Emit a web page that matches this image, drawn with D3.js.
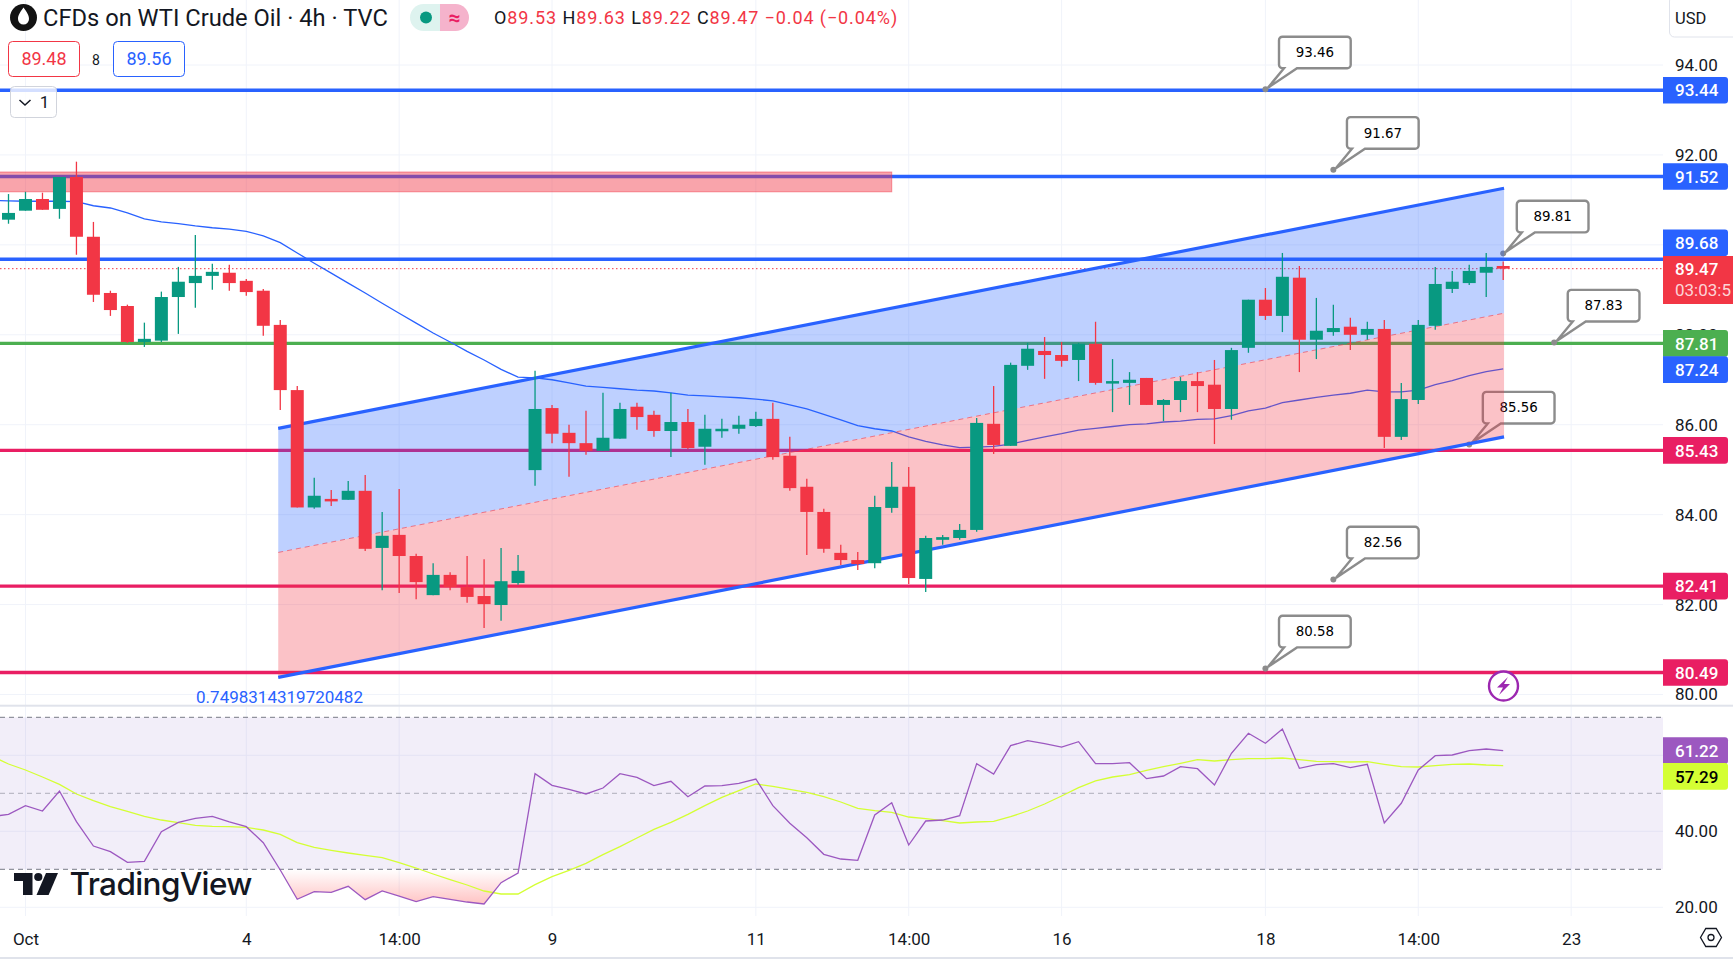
<!DOCTYPE html>
<html>
<head>
<meta charset="utf-8">
<title>CFDs on WTI Crude Oil</title>
<script src="https://cdn.jsdelivr.net/npm/d3@7"></script>
<style>
  html, body { margin: 0; padding: 0; background: #fff; overflow: hidden; }
  svg { display: block; font-family: Roboto, sans-serif; }
  .axis path { display: none; }
  .axis line { display: none; }
  .axis text { font-size: 17px; fill: #131722; font-family: Roboto, sans-serif; }
</style>
</head>
<body>
<svg id="chart"></svg>
<script>
const width = 1733, height = 959;

// 4h candles, bar 0 is the first one in view
const opens = [90.56,90.76,91.02,90.80,91.51,90.18,88.93,88.64,87.84,87.87,88.84,89.15,89.31,89.38,89.20,88.98,88.22,86.77,84.16,84.35,84.33,84.53,83.26,83.55,83.08,82.21,82.66,82.39,82.19,81.99,82.48,84.99,86.37,85.82,85.59,85.42,85.69,86.40,86.22,85.86,86.06,85.51,85.89,85.91,85.97,86.13,85.31,84.62,84.06,83.15,82.99,82.92,84.15,84.62,82.57,83.44,83.48,83.66,86.02,85.53,87.31,87.64,87.55,87.44,87.80,86.95,86.93,87.04,86.44,86.55,86.97,86.89,86.35,87.71,88.78,88.42,89.27,87.89,88.06,88.18,88.00,88.13,85.73,86.55,88.20,89.02,89.15,89.38,89.53];
const highs = [91.13,91.18,91.16,91.51,91.85,90.51,88.98,88.67,88.27,88.96,89.51,90.22,89.58,89.56,89.24,89.02,88.33,86.86,84.82,84.55,84.75,84.88,84.06,84.57,83.13,82.92,82.72,83.08,83.01,83.26,83.10,87.20,86.44,86.00,86.31,86.71,86.49,86.49,86.31,86.71,86.35,86.22,86.13,86.20,86.29,86.49,85.73,84.80,84.13,83.33,83.17,84.42,85.17,85.06,83.53,83.55,83.79,86.15,86.86,87.38,87.82,87.95,87.84,87.82,88.29,87.46,87.17,87.04,86.57,87.06,87.17,87.44,87.71,88.78,89.04,89.82,89.53,88.82,88.67,88.38,88.29,88.33,86.93,88.33,89.51,89.42,89.56,89.82,89.63];
const lows = [90.47,90.76,90.78,90.58,89.78,88.73,88.42,87.82,87.73,87.84,88.02,88.60,89.00,88.98,88.87,87.98,86.33,84.16,84.13,84.19,84.33,83.19,82.32,82.26,82.12,82.21,82.32,82.04,81.48,81.64,82.44,84.64,85.59,84.84,85.33,85.42,85.69,85.89,85.73,85.28,85.46,85.11,85.71,85.80,85.95,85.22,84.53,83.10,83.15,82.88,82.77,82.81,84.04,82.46,82.28,83.33,83.44,83.62,85.35,85.53,87.22,87.02,87.29,86.97,86.89,86.28,86.44,86.44,86.08,86.28,86.28,85.57,86.11,87.60,88.33,88.06,87.17,87.46,87.98,87.66,87.89,85.48,85.66,86.46,88.11,88.93,89.11,88.84,89.22];
const closes = [90.71,91.02,90.78,91.51,90.18,88.89,88.55,87.84,87.91,88.84,89.18,89.31,89.40,89.15,88.95,88.20,86.77,84.16,84.42,84.33,84.53,83.24,83.53,83.08,82.50,82.66,82.39,82.17,82.01,82.52,82.75,86.35,85.80,85.59,85.42,85.71,86.35,86.17,85.86,86.06,85.48,85.91,85.91,86.00,86.13,85.28,84.59,84.06,83.24,82.99,82.90,84.17,84.62,82.59,83.48,83.50,83.66,86.04,85.55,87.33,87.69,87.55,87.42,87.80,86.93,86.97,87.00,86.44,86.55,86.97,86.86,86.35,87.66,88.78,88.42,89.29,87.89,88.09,88.15,88.00,88.13,85.73,86.57,88.22,89.13,89.18,89.42,89.51,89.47];

// these three start one bar earlier, at bar -1, just off the left edge
const ma_line = [90.99,90.98,90.97,90.97,90.97,90.96,90.87,90.82,90.71,90.58,90.51,90.47,90.42,90.38,90.35,90.30,90.20,90.05,89.82,89.59,89.37,89.15,88.93,88.70,88.48,88.26,88.04,87.84,87.63,87.44,87.23,87.06,87.04,87.00,86.93,86.86,86.83,86.80,86.77,86.75,86.71,86.66,86.64,86.62,86.60,86.57,86.53,86.44,86.35,86.23,86.11,85.98,85.91,85.86,85.73,85.63,85.55,85.49,85.50,85.52,85.57,85.65,85.73,85.80,85.88,85.92,85.96,86.00,86.02,86.06,86.08,86.12,86.13,86.20,86.31,86.37,86.49,86.55,86.61,86.66,86.70,86.77,86.73,86.73,86.77,86.89,86.98,87.09,87.18,87.24];
const rsi_values = [43.85,44.46,46.75,45.34,50.60,42.54,36.13,34.64,31.83,32.10,39.90,42.36,43.41,43.94,42.45,41.22,37.01,29.82,22.11,24.11,23.94,25.52,22.01,24.29,22.97,21.48,22.80,22.10,21.39,20.87,26.48,29.03,55.17,52.10,51.04,49.82,51.39,55.17,54.20,52.01,53.15,49.11,51.92,52.01,52.62,53.76,46.75,42.10,38.32,33.94,32.71,32.36,44.29,47.54,36.39,42.71,42.97,44.11,57.80,55.08,62.54,63.85,63.06,62.18,63.59,57.80,57.80,58.06,53.85,54.55,57.01,56.48,52.18,60.53,65.79,63.16,66.92,56.58,57.53,57.79,56.74,57.63,42.18,47.37,56.13,59.89,60.08,61.21,61.66,61.22];
const rsi_ma = [59.82,57.71,56.13,54.29,52.36,49.82,48.06,46.48,45.25,43.94,42.97,42.27,41.57,41.31,41.22,41.04,40.34,39.20,37.01,35.78,34.99,34.29,33.68,33.06,31.75,30.34,28.76,27.27,25.87,24.29,23.50,23.50,25.96,28.06,29.73,31.57,33.85,35.96,38.24,40.52,42.36,44.46,46.75,48.94,50.69,52.45,51.83,51.04,50.25,49.11,47.71,46.04,45.43,44.99,43.76,43.32,42.80,42.18,42.45,42.62,43.85,45.34,47.18,49.29,51.48,53.24,54.29,54.90,56.04,57.01,57.89,58.85,58.50,58.85,59.11,59.11,59.29,58.85,58.41,58.32,58.24,58.32,57.62,57.01,56.92,57.27,57.62,57.71,57.45,57.29];

const price_ticks = [80, 82, 84, 86, 88, 90, 92, 94];
const rsi_ticks = [20, 40, 60];
const rsi_bands = [70, 50, 30];
const time_tick_bars = [1, 14, 23, 32, 44, 53, 62, 74, 83, 92];
const time_tick_labels = ['Oct', '4', '14:00', '9', '11', '14:00', '16', '18', '14:00', '23'];

// horizontal levels drawn on the chart
const level_values = [93.44, 91.52, 89.68, 87.81, 85.43, 82.41, 80.49];
const level_colors = ['#2962FF', '#2962FF', '#2962FF', '#4CAF50', '#E91E63', '#E91E63', '#E91E63'];

// parallel channel, two ends each
const channel_bars = [15.88, 88.05];
const channel_top = [85.92, 91.26];
const channel_mid = [83.16, 88.48];
const channel_low = [80.38, 85.73];

// supply zone
const zone_bars = [-2, 52];
const zone_prices = [91.62, 91.18];

// callouts: price text and the bar they point at
const callout_values = [93.46, 91.67, 89.81, 87.83, 85.56, 82.56, 80.58];
const callout_bars = [74, 78, 88, 91, 86, 78, 74];

const last_price = 89.47;
const ma_last = 87.24;
const rsi_last = 61.22, rsi_ma_last = 57.29;

const pane_right = 1663, separator_y = 705.7, time_axis_y = 916;
const green = '#089981', red = '#F23645', blue = '#2962FF', ink = '#131722';
const rsi_color = '#9C58C0', rsi_ma_color = '#D4FF33';

const x = d3.scaleLinear().domain([0, 88]).range([8.5, 1503.2]);
const y = d3.scaleLinear().domain([80, 94]).range([694.5, 65]);
const y_rsi = d3.scaleLinear().domain([30, 70]).range([869.3, 717.3]);

const svg = d3.select('#chart').attr('width', width).attr('height', height)
  .attr('viewBox', `0 0 ${width} ${height}`);

const defs = svg.append('defs');
defs.append('clipPath').attr('id', 'paneClip').append('rect')
  .attr('width', pane_right).attr('height', separator_y);
defs.append('clipPath').attr('id', 'rsiClip').append('rect')
  .attr('x', 0).attr('y', separator_y).attr('width', pane_right).attr('height', time_axis_y - separator_y);
defs.append('clipPath').attr('id', 'oversoldClip').append('rect')
  .attr('x', 0).attr('y', y_rsi(30)).attr('width', pane_right).attr('height', 60);
const grad = defs.append('linearGradient').attr('id', 'oversold')
  .attr('gradientUnits', 'userSpaceOnUse')
  .attr('x1', 0).attr('x2', 0).attr('y1', y_rsi(30)).attr('y2', y_rsi(20));
grad.append('stop').attr('offset', 0).attr('stop-color', '#FF5252').attr('stop-opacity', 0);
grad.append('stop').attr('offset', 1).attr('stop-color', '#FF5252').attr('stop-opacity', 0.38);

// Grid
const grid = svg.append('g').attr('stroke', '#F0F3FA').attr('stroke-width', 1);
price_ticks.forEach(p => {
  grid.append('line').attr('x1', 0).attr('x2', pane_right).attr('y1', y(p)).attr('y2', y(p));
});
rsi_ticks.forEach(r => {
  grid.append('line').attr('x1', 0).attr('x2', pane_right).attr('y1', y_rsi(r)).attr('y2', y_rsi(r));
});
time_tick_bars.forEach(b => {
  grid.append('line').attr('x1', x(b)).attr('x2', x(b)).attr('y1', 0).attr('y2', time_axis_y);
});

// Pane separator and bottom rule
svg.append('rect').attr('x', 0).attr('y', separator_y - 1).attr('width', width).attr('height', 2).attr('fill', '#E0E3EB');
svg.append('rect').attr('x', 0).attr('y', 957).attr('width', width).attr('height', 2).attr('fill', '#E0E3EB');

const pane = svg.append('g').attr('clip-path', 'url(#paneClip)');

// Levels
pane.selectAll('.level').data(level_values).enter().append('line')
  .attr('class', 'level')
  .attr('x1', 0).attr('x2', pane_right)
  .attr('y1', d => y(d)).attr('y2', d => y(d))
  .attr('stroke', (_, i) => level_colors[i])
  .attr('stroke-width', 3.4);

// Last price dotted line
pane.append('line').attr('x1', 0).attr('x2', pane_right)
  .attr('y1', y(last_price)).attr('y2', y(last_price))
  .attr('stroke', red).attr('stroke-width', 1).attr('stroke-dasharray', '1.5 2.5');

// Moving average
const bar_line = d3.line().x((_, i) => x(i - 1)).y(d => y(d));
pane.append('path').attr('d', bar_line(ma_line))
  .attr('fill', 'none').attr('stroke', blue).attr('stroke-width', 1.3);

// Callouts, they sit below the channel fill
const callout = pane.selectAll('.callout').data(callout_values).enter().append('g')
  .attr('class', 'callout')
  .attr('transform', (d, i) => `translate(${x(callout_bars[i])},${y(d)})`);
callout.append('path')
  .attr('d', () => {
    const p = d3.path(), l = 13.6, r = 85.3, t = -52.6, b = -21, c = 3.5;
    p.moveTo(l + c, t);
    p.lineTo(r - c, t); p.arcTo(r, t, r, t + c, c);
    p.lineTo(r, b - c); p.arcTo(r, b, r - c, b, c);
    p.lineTo(31.6, b); p.lineTo(2.5, -1.5); p.lineTo(18.6, b);
    p.lineTo(l + c, b); p.arcTo(l, b, l, b - c, c);
    p.lineTo(l, t + c); p.arcTo(l, t, l + c, t, c);
    p.closePath();
    return p.toString();
  })
  .attr('fill', '#fff').attr('stroke', '#8C8C8C').attr('stroke-width', 2.4);
callout.append('circle').attr('r', 3).attr('fill', '#8C8C8C');
callout.append('text').attr('x', 49.5).attr('y', -32)
  .attr('text-anchor', 'middle')
  .style('font-family', '"DejaVu Sans"').style('font-size', '13.4px').style('font-weight', 500)
  .attr('fill', '#000').text(d => d.toFixed(2));

// Supply zone
pane.append('rect')
  .attr('x', x(zone_bars[0])).attr('width', x(zone_bars[1]) - x(zone_bars[0]))
  .attr('y', y(zone_prices[0])).attr('height', y(zone_prices[1]) - y(zone_prices[0]))
  .attr('fill', red).attr('fill-opacity', 0.45)
  .attr('stroke', red).attr('stroke-opacity', 0.5).attr('stroke-width', 1);

// Channel fills and border
const channel_x = (_, i) => x(channel_bars[i]);
const band = (upper, lower) => d3.area().x(channel_x).y0((_, i) => y(lower[i])).y1((_, i) => y(upper[i]))(channel_bars);
pane.append('path').attr('d', band(channel_top, channel_mid)).attr('fill', blue).attr('fill-opacity', 0.3);
pane.append('path').attr('d', band(channel_mid, channel_low)).attr('fill', red).attr('fill-opacity', 0.3);
const channel_line = d3.line().x(channel_x).y(d => y(d));
pane.append('path').attr('d', channel_line(channel_top)).attr('fill', 'none').attr('stroke', blue).attr('stroke-width', 3.2);
pane.append('path').attr('d', channel_line(channel_low)).attr('fill', 'none').attr('stroke', blue).attr('stroke-width', 3.2);
pane.append('path').attr('d', channel_line(channel_mid)).attr('fill', 'none')
  .attr('stroke', red).attr('stroke-opacity', 0.6).attr('stroke-width', 1).attr('stroke-dasharray', '5 4');

// Candles
const candle = pane.selectAll('.candle').data(opens).enter().append('g').attr('class', 'candle');
const candle_color = (_, i) => closes[i] >= opens[i] ? green : red;
candle.append('line')
  .attr('x1', (_, i) => x(i)).attr('x2', (_, i) => x(i))
  .attr('y1', (_, i) => y(highs[i])).attr('y2', (_, i) => y(lows[i]))
  .attr('stroke', candle_color).attr('stroke-width', 1.3);
candle.append('rect')
  .attr('x', (_, i) => x(i) - 6.5).attr('width', 13)
  .attr('y', (d, i) => y(Math.max(d, closes[i])))
  .attr('height', (d, i) => Math.max(2.5, Math.abs(y(d) - y(closes[i]))))
  .attr('fill', candle_color);

pane.append('text').attr('x', 279.5).attr('y', 703)
  .attr('text-anchor', 'middle').attr('fill', blue).style('font-size', '17px')
  .text('0.7498314319720482');

// RSI pane
svg.append('rect').attr('x', 0).attr('width', pane_right)
  .attr('y', y_rsi(70)).attr('height', y_rsi(30) - y_rsi(70))
  .attr('fill', '#7E57C2').attr('fill-opacity', 0.1);
rsi_bands.forEach((r, i) => {
  svg.append('line').attr('x1', 0).attr('x2', pane_right).attr('y1', y_rsi(r)).attr('y2', y_rsi(r))
    .attr('stroke', '#787B86').attr('stroke-opacity', i === 1 ? 0.55 : 1)
    .attr('stroke-dasharray', '5 4');
});
const rsi_pane = svg.append('g').attr('clip-path', 'url(#rsiClip)');
const rsi_area = d3.area().x((_, i) => x(i - 1)).y0(y_rsi(30)).y1(d => y_rsi(d));
rsi_pane.append('g').attr('clip-path', 'url(#oversoldClip)').append('path')
  .attr('d', rsi_area(rsi_values)).attr('fill', 'url(#oversold)');
const rsi_line = d3.line().x((_, i) => x(i - 1)).y(d => y_rsi(d));
rsi_pane.append('path').attr('d', rsi_line(rsi_ma)).attr('fill', 'none').attr('stroke', rsi_ma_color).attr('stroke-width', 1.3);
rsi_pane.append('path').attr('d', rsi_line(rsi_values)).attr('fill', 'none').attr('stroke', rsi_color).attr('stroke-width', 1.3);

// TradingView mark
const logo = svg.append('g').attr('fill', ink);
logo.append('path').attr('d', 'M14 873H32.5V895H23V881H14Z');
logo.append('circle').attr('cx', 38.3).attr('cy', 877).attr('r', 4.1);
logo.append('path').attr('d', 'M46 873H58L48.6 895H36.5Z');
logo.append('text').attr('x', 69.5).attr('y', 895)
  .style('font-family', 'Inter').style('font-size', '31.5px').style('font-weight', 500)
  .style('letter-spacing', '-0.6px').text('TradingView');

// Axes
svg.append('g').attr('class', 'axis').attr('transform', `translate(${pane_right},0)`)
  .call(d3.axisRight(y).tickValues(price_ticks).tickSize(0).tickPadding(12).tickFormat(d3.format('.2f')));
svg.append('g').attr('class', 'axis').attr('transform', `translate(${pane_right},0)`)
  .call(d3.axisRight(y_rsi).tickValues(rsi_ticks).tickSize(0).tickPadding(12).tickFormat(d3.format('.2f')));
svg.append('g').attr('class', 'axis').attr('transform', `translate(0,${time_axis_y})`)
  .call(d3.axisBottom(x).tickValues(time_tick_bars).tickSize(0).tickPadding(17)
    .tickFormat((_, i) => time_tick_labels[i]));

// Price labels on the axis, nudged where they would overlap
const price_label = (cy, text, fill, color) => {
  const g = svg.append('g');
  g.append('path')
    .attr('d', `M${pane_right} ${cy - 13.3}h62a3 3 0 0 1 3 3v20.6a3 3 0 0 1 -3 3h-62z`)
    .attr('fill', fill);
  g.append('text').attr('x', 1675).attr('y', cy + 6.2)
    .attr('fill', color).style('font-size', '17px').style('font-weight', 500).text(text);
};
level_values.forEach((v, i) => {
  const nudge = v === 89.68 ? -16.4 : 0;
  price_label(y(v) + nudge, v.toFixed(2), level_colors[i], '#fff');
});
price_label(y(ma_last) + 0.7, ma_last.toFixed(2), blue, '#fff');
price_label(y_rsi(rsi_last), rsi_last.toFixed(2), rsi_color, '#fff');
price_label(y_rsi(rsi_ma_last) + 10.8, rsi_ma_last.toFixed(2), rsi_ma_color, '#000');

// Last price with countdown
svg.append('rect').attr('x', pane_right).attr('y', 256).attr('width', width - pane_right).attr('height', 48).attr('fill', red);
svg.append('text').attr('x', 1675).attr('y', 275.2).attr('fill', '#fff')
  .style('font-size', '17px').style('font-weight', 500).text(last_price.toFixed(2));
svg.append('text')
  .attr('x', 1675).attr('y', 296).attr('fill', '#fff').attr('fill-opacity', 0.8)
  .style('font-size', '17px').text('03:03:5');

// USD button
svg.append('rect').attr('x', 1669.5).attr('y', -4).attr('width', 70).attr('height', 41).attr('rx', 5)
  .attr('fill', '#fff').attr('stroke', '#E0E3EB');
svg.append('text').attr('x', 1675).attr('y', 24).attr('fill', ink).style('font-size', '16.5px').text('USD');

// Header
svg.append('circle').attr('cx', 23.5).attr('cy', 17.5).attr('r', 13.5).attr('fill', '#131313');
svg.append('path').attr('d', 'M23.5 7.5C27 12.5 29 15 29 19A5.5 5.5 0 0 1 18 19C18 15 20 12.5 23.5 7.5Z').attr('fill', '#fff');
svg.append('text').attr('x', 43).attr('y', 25.5).attr('fill', ink)
  .style('font-size', '23.7px').text('CFDs on WTI Crude Oil · 4h · TVC');

svg.append('path').attr('d', 'M440 4H423.5a13.5 13.5 0 0 0 0 27H440Z').attr('fill', '#DEF3EF');
svg.append('path').attr('d', 'M440 4H455.5a13.5 13.5 0 0 1 0 27H440Z').attr('fill', '#F5B3CC');
svg.append('circle').attr('cx', 426).attr('cy', 17.5).attr('r', 6).attr('fill', green);
svg.append('text').attr('x', 454.5).attr('y', 24.5).attr('text-anchor', 'middle').attr('fill', '#E91E63')
  .style('font-size', '21px').style('font-weight', 700).text('≈');

const ohlc = svg.append('text').attr('x', 494).attr('y', 23.5).style('font-size', '18px').style('letter-spacing', '0.9px');
[['O', ink], ['89.53', red], [' H', ink], ['89.63', red], [' L', ink], ['89.22', red], [' C', ink], ['89.47', red], [' −0.04 (−0.04%)', red]]
  .forEach(d => ohlc.append('tspan').attr('fill', d[1]).style('white-space', 'pre').text(d[0]));

// Bid / ask boxes
const quote_box = (box_x, text, color) => {
  svg.append('rect').attr('x', box_x + 0.5).attr('y', 41.5).attr('width', 71).attr('height', 35).attr('rx', 4)
    .attr('fill', '#fff').attr('stroke', color);
  svg.append('text').attr('x', box_x + 36).attr('y', 65.2).attr('text-anchor', 'middle')
    .attr('fill', color).style('font-size', '18px').text(text);
};
quote_box(8, '89.48', red);
svg.append('text').attr('x', 96).attr('y', 65).attr('text-anchor', 'middle').attr('fill', ink).style('font-size', '14px').text('8');
quote_box(113, '89.56', blue);

// Collapse button
svg.append('rect').attr('x', 10.5).attr('y', 86.5).attr('width', 46).attr('height', 31).attr('rx', 4)
  .attr('fill', '#fff').attr('fill-opacity', 0.8).attr('stroke', '#D1D4DC');
svg.append('path').attr('d', 'M19.5 100l5.5 5 5.5-5').attr('fill', 'none').attr('stroke', ink).attr('stroke-width', 1.5);
svg.append('text').attr('x', 44.5).attr('y', 108).attr('text-anchor', 'middle').attr('fill', ink).style('font-size', '17px').text('1');

// Bolt badge
svg.append('circle').attr('cx', 1503.5).attr('cy', 686).attr('r', 14.5).attr('fill', '#fff').attr('stroke', '#9C27B0').attr('stroke-width', 2.4);
svg.append('path').attr('d', 'M1508 677L1497 687.5H1503L1499 695L1510 684H1504Z').attr('fill', '#9C27B0');

// Settings icon
svg.append('path').attr('d', 'M1700.5 937.5L1705.8 928.5H1716.2L1721.5 937.5L1716.2 946.5H1705.8Z')
  .attr('fill', 'none').attr('stroke', ink).attr('stroke-width', 1.3);
svg.append('circle').attr('cx', 1711).attr('cy', 937.5).attr('r', 3).attr('fill', 'none').attr('stroke', ink).attr('stroke-width', 1.3);
</script>
</body>
</html>
